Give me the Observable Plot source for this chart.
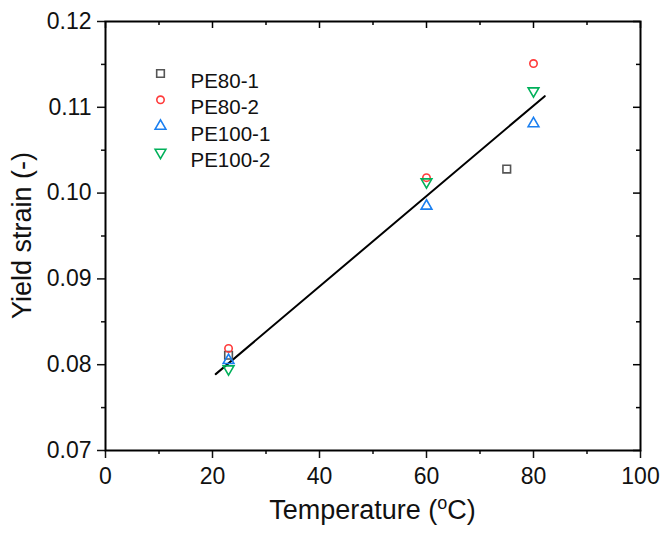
<!DOCTYPE html>
<html><head><meta charset="utf-8">
<script src="https://cdn.jsdelivr.net/npm/d3@7"></script>
<script src="https://cdn.jsdelivr.net/npm/@observablehq/plot@0.6"></script>
<style>
body{margin:0;background:#fff;}
#chart svg{font-family:"Liberation Sans",Arial,sans-serif;}
</style>
</head><body><div id="chart"></div>
<script>
// ---- data ----
const seriesNames = ["PE80-1", "PE80-2", "PE100-1", "PE100-2"];
const seriesColors = ["#555555", "#ff3b3b", "#1a7ff0", "#00b05a"];
const pe80_1 = [{t: 23, y: 0.0811}, {t: 75, y: 0.1028}];
const pe80_2 = [{t: 23, y: 0.0819}, {t: 60, y: 0.1018}, {t: 80, y: 0.1151}];
const pe100_1 = [{t: 23, y: 0.0805}, {t: 60, y: 0.0985}, {t: 80, y: 0.1081}];
const pe100_2 = [{t: 23, y: 0.0795}, {t: 60, y: 0.1013}, {t: 80, y: 0.1119}];
const fitLine = [{t: 20.6, y: 0.0789}, {t: 82.1, y: 0.1113}];
const xMajor = [0, 20, 40, 60, 80, 100];
const xMinor = [10, 30, 50, 70, 90];
const yMajor = [0.07, 0.08, 0.09, 0.10, 0.11, 0.12];
const yMinor = [0.075, 0.085, 0.095, 0.105, 0.115];

// ---- symbols ----
const triDown = {
  draw(ctx, size) {
    const s3 = Math.sqrt(3);
    const y = -Math.sqrt(size / (s3 * 3));
    ctx.moveTo(0, -y * 2);
    ctx.lineTo(-s3 * y, y);
    ctx.lineTo(s3 * y, y);
    ctx.closePath();
  }
};
const seriesData = [pe80_1, pe80_2, pe100_1, pe100_2];
const seriesSymbols = ["square", "circle", "triangle", triDown];
const seriesR = [4.3, 3.7, 4, 4];

const W = 669, H = 537;
const mL = 105, mR = 29, mT = 21, mB = 87;
const innerH = H - mT - mB;
const innerW = W - mL - mR;

const marks = [];
// fit line
marks.push(Plot.line(fitLine, {x: "t", y: "y", stroke: "black", strokeWidth: 2}));
// data
seriesData.forEach((d, i) => {
  marks.push(Plot.dot(d, {x: "t", y: "y", symbol: seriesSymbols[i], r: seriesR[i],
    stroke: seriesColors[i], strokeWidth: 1.6, fill: "none"}));
});
// legend
seriesNames.forEach((name, i) => {
  const dy = 52 + i * 26.3;
  marks.push(Plot.dot([name], {frameAnchor: "top-left", dx: 55, dy, symbol: seriesSymbols[i],
    r: seriesR[i], stroke: seriesColors[i], strokeWidth: 1.6, fill: "none"}));
  marks.push(Plot.text([name], {text: d => d, frameAnchor: "top-left", dx: 85, dy,
    textAnchor: "start", fontSize: 20.5, fill: "#111"}));
});
// axes bottom/left (outward ticks)
marks.push(Plot.axisX(xMajor, {anchor: "bottom", tickSize: 8, tickPadding: 9, strokeWidth: 1.5,
  fontSize: 23, label: null, fill: "#111", tickFormat: d => d}));
marks.push(Plot.axisX(xMinor, {anchor: "bottom", tickSize: 4, strokeWidth: 1.5, text: null, label: null}));
marks.push(Plot.axisY(yMajor, {anchor: "left", tickSize: 8, tickPadding: 6, strokeWidth: 1.5,
  fontSize: 23, label: null, fill: "#111", tickFormat: d3.format(".2f")}));
marks.push(Plot.axisY(yMinor, {anchor: "left", tickSize: 4, strokeWidth: 1.5, text: null, label: null}));
// top/right inward ticks
marks.push(Plot.tickX(xMajor, {x: d => d, insetBottom: innerH - 7, stroke: "black", strokeWidth: 1.5}));
marks.push(Plot.tickX(xMinor, {x: d => d, insetBottom: innerH - 4, stroke: "black", strokeWidth: 1.5}));
marks.push(Plot.tickY(yMajor, {y: d => d, insetLeft: innerW - 7, stroke: "black", strokeWidth: 1.5}));
marks.push(Plot.tickY(yMinor, {y: d => d, insetLeft: innerW - 4, stroke: "black", strokeWidth: 1.5}));
marks.push(Plot.frame({stroke: "black", strokeWidth: 2}));

const chart = Plot.plot({
  width: W, height: H,
  marginLeft: mL, marginRight: mR, marginTop: mT, marginBottom: mB,
  x: {domain: [0, 100]},
  y: {domain: [0.07, 0.12]},
  style: {fontFamily: "Liberation Sans, Arial, sans-serif", color: "#111", background: "#fff"},
  marks
});

// axis titles with superscript
const svg = d3.select(chart);
const xt = svg.append("text")
  .attr("x", mL + innerW / 2).attr("y", 519)
  .attr("text-anchor", "middle").attr("font-size", 27).attr("fill", "#111");
xt.append("tspan").text("Temperature (");
xt.append("tspan").text("o").attr("font-size", 18).attr("dy", -10);
xt.append("tspan").text("C)").attr("dy", 10);
svg.append("text")
  .attr("transform", `translate(31,${mT + innerH / 2}) rotate(-90)`)
  .attr("text-anchor", "middle").attr("font-size", 27).attr("fill", "#111")
  .text("Yield strain (-)");

document.getElementById("chart").appendChild(chart);
</script>
</body></html>
